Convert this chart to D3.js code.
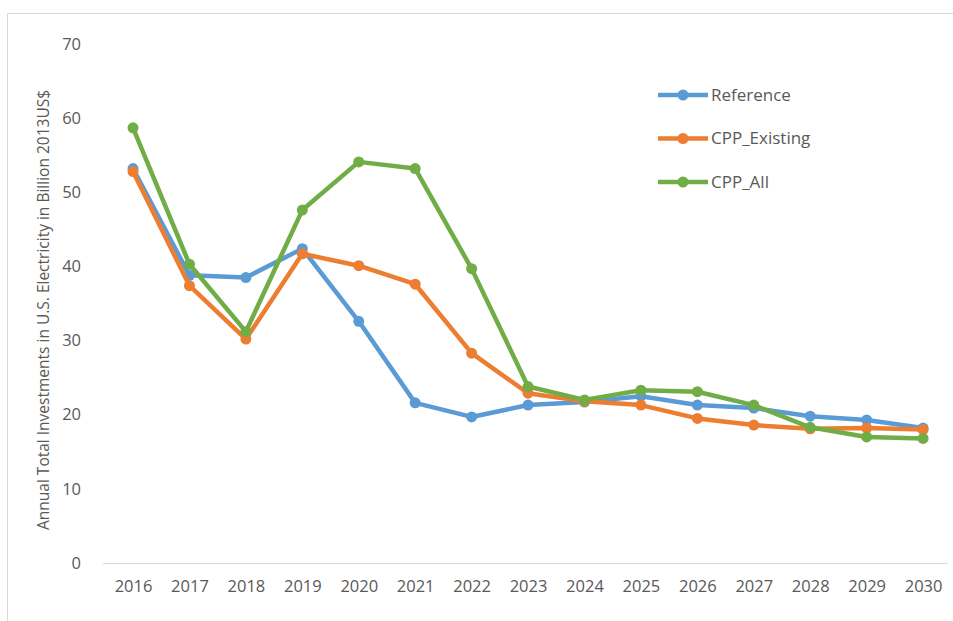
<!DOCTYPE html>
<html>
<head>
<meta charset="utf-8">
<script src="https://cdn.jsdelivr.net/npm/d3@7"></script>
<style>
  body { margin: 0; background: #fff; }
  text { font-family: "Open Sans", sans-serif; fill: #595959; }
</style>
</head>
<body>
<div class="chart"></div>
<script>
// ---------------- DATA
var years = ["2016","2017","2018","2019","2020","2021","2022","2023","2024","2025","2026","2027","2028","2029","2030"];
var reference   = [53.2, 38.8, 38.5, 42.4, 32.6, 21.6, 19.7, 21.3, 21.7, 22.5, 21.3, 20.9, 19.8, 19.3, 18.2];
var cppExisting = [52.8, 37.4, 30.2, 41.7, 40.1, 37.6, 28.3, 22.9, 21.8, 21.3, 19.5, 18.6, 18.1, 18.2, 18.0];
var cppAll      = [58.7, 40.3, 31.2, 47.6, 54.1, 53.2, 39.7, 23.8, 22.0, 23.3, 23.1, 21.3, 18.3, 17.0, 16.8];
var seriesNames = ["Reference", "CPP_Existing", "CPP_All"];
var yTicks = [0, 10, 20, 30, 40, 50, 60, 70];
var yTitle = "Annual Total Investments in U.S. Electricity in Billion 2013US$";

var colors = ["#5B9BD5", "#ED7D31", "#70AD47"];
var allSeries = [reference, cppExisting, cppAll];

var width = 953, height = 621;

var svg = d3.select(".chart").append("svg")
  .attr("width", width)
  .attr("height", height);

// chart border
svg.append("rect")
  .attr("x", 7.5).attr("y", 13.5)
  .attr("width", 980).attr("height", 640)
  .attr("fill", "none")
  .attr("stroke", "#d9d9d9");

// ---------------- SCALES
var x = d3.scalePoint()
  .domain(years)
  .range([104.8, 951.3])
  .padding(0.5);

var y = d3.scaleLinear()
  .domain([0, 70])
  .range([563, 44]);

// ---------------- AXES
var yAxis = d3.axisLeft(y).tickValues(yTicks).tickSize(0).tickPadding(0);
svg.append("g")
  .attr("transform", "translate(81,0)")
  .call(yAxis)
  .call(function(g){ g.select(".domain").remove(); })
  .selectAll("text")
  .style("font-size", "16.5px")
  .attr("fill", "#595959");

var xAxis = d3.axisBottom(x).tickSize(0).tickPadding(17);
var gx = svg.append("g")
  .attr("transform", "translate(0,563)")
  .call(xAxis);
gx.select(".domain").attr("stroke", "#d9d9d9").attr("stroke-width", 1)
  .attr("d", "M103,0.5H948");
gx.selectAll("text").style("font-size", "16.5px").attr("fill", "#595959");

// y title
svg.append("text")
  .attr("transform", "translate(49,310) rotate(-90)")
  .attr("text-anchor", "middle")
  .style("font-size", "15.5px")
  .text(yTitle);

// ---------------- LINES
var line = d3.line()
  .x(function(d, i){ return x(years[i]); })
  .y(function(d){ return y(d); });

allSeries.forEach(function(s, k){
  svg.append("path")
    .attr("fill", "none")
    .attr("stroke", colors[k])
    .attr("stroke-width", 4.5)
    .attr("stroke-linejoin", "round")
    .attr("d", line(s));
  svg.selectAll("circle.s" + k)
    .data(s)
    .enter().append("circle")
    .attr("class", "s" + k)
    .attr("cx", function(d, i){ return x(years[i]); })
    .attr("cy", function(d){ return y(d); })
    .attr("r", 5.5)
    .attr("fill", colors[k]);
});

// ---------------- LEGEND
var legend = svg.selectAll("g.legend")
  .data(seriesNames)
  .enter().append("g")
  .attr("class", "legend")
  .attr("transform", function(d, i){ return "translate(658," + (95 + i * 43.5) + ")"; });

legend.append("line")
  .attr("x1", 0).attr("x2", 50)
  .attr("stroke", function(d, i){ return colors[i]; })
  .attr("stroke-width", 4.5);
legend.append("circle")
  .attr("cx", 25).attr("r", 5.5)
  .attr("fill", function(d, i){ return colors[i]; });
legend.append("text")
  .attr("x", 53).attr("dy", "0.35em")
  .style("font-size", "17px")
  .text(function(d){ return d; });
</script>
</body>
</html>
